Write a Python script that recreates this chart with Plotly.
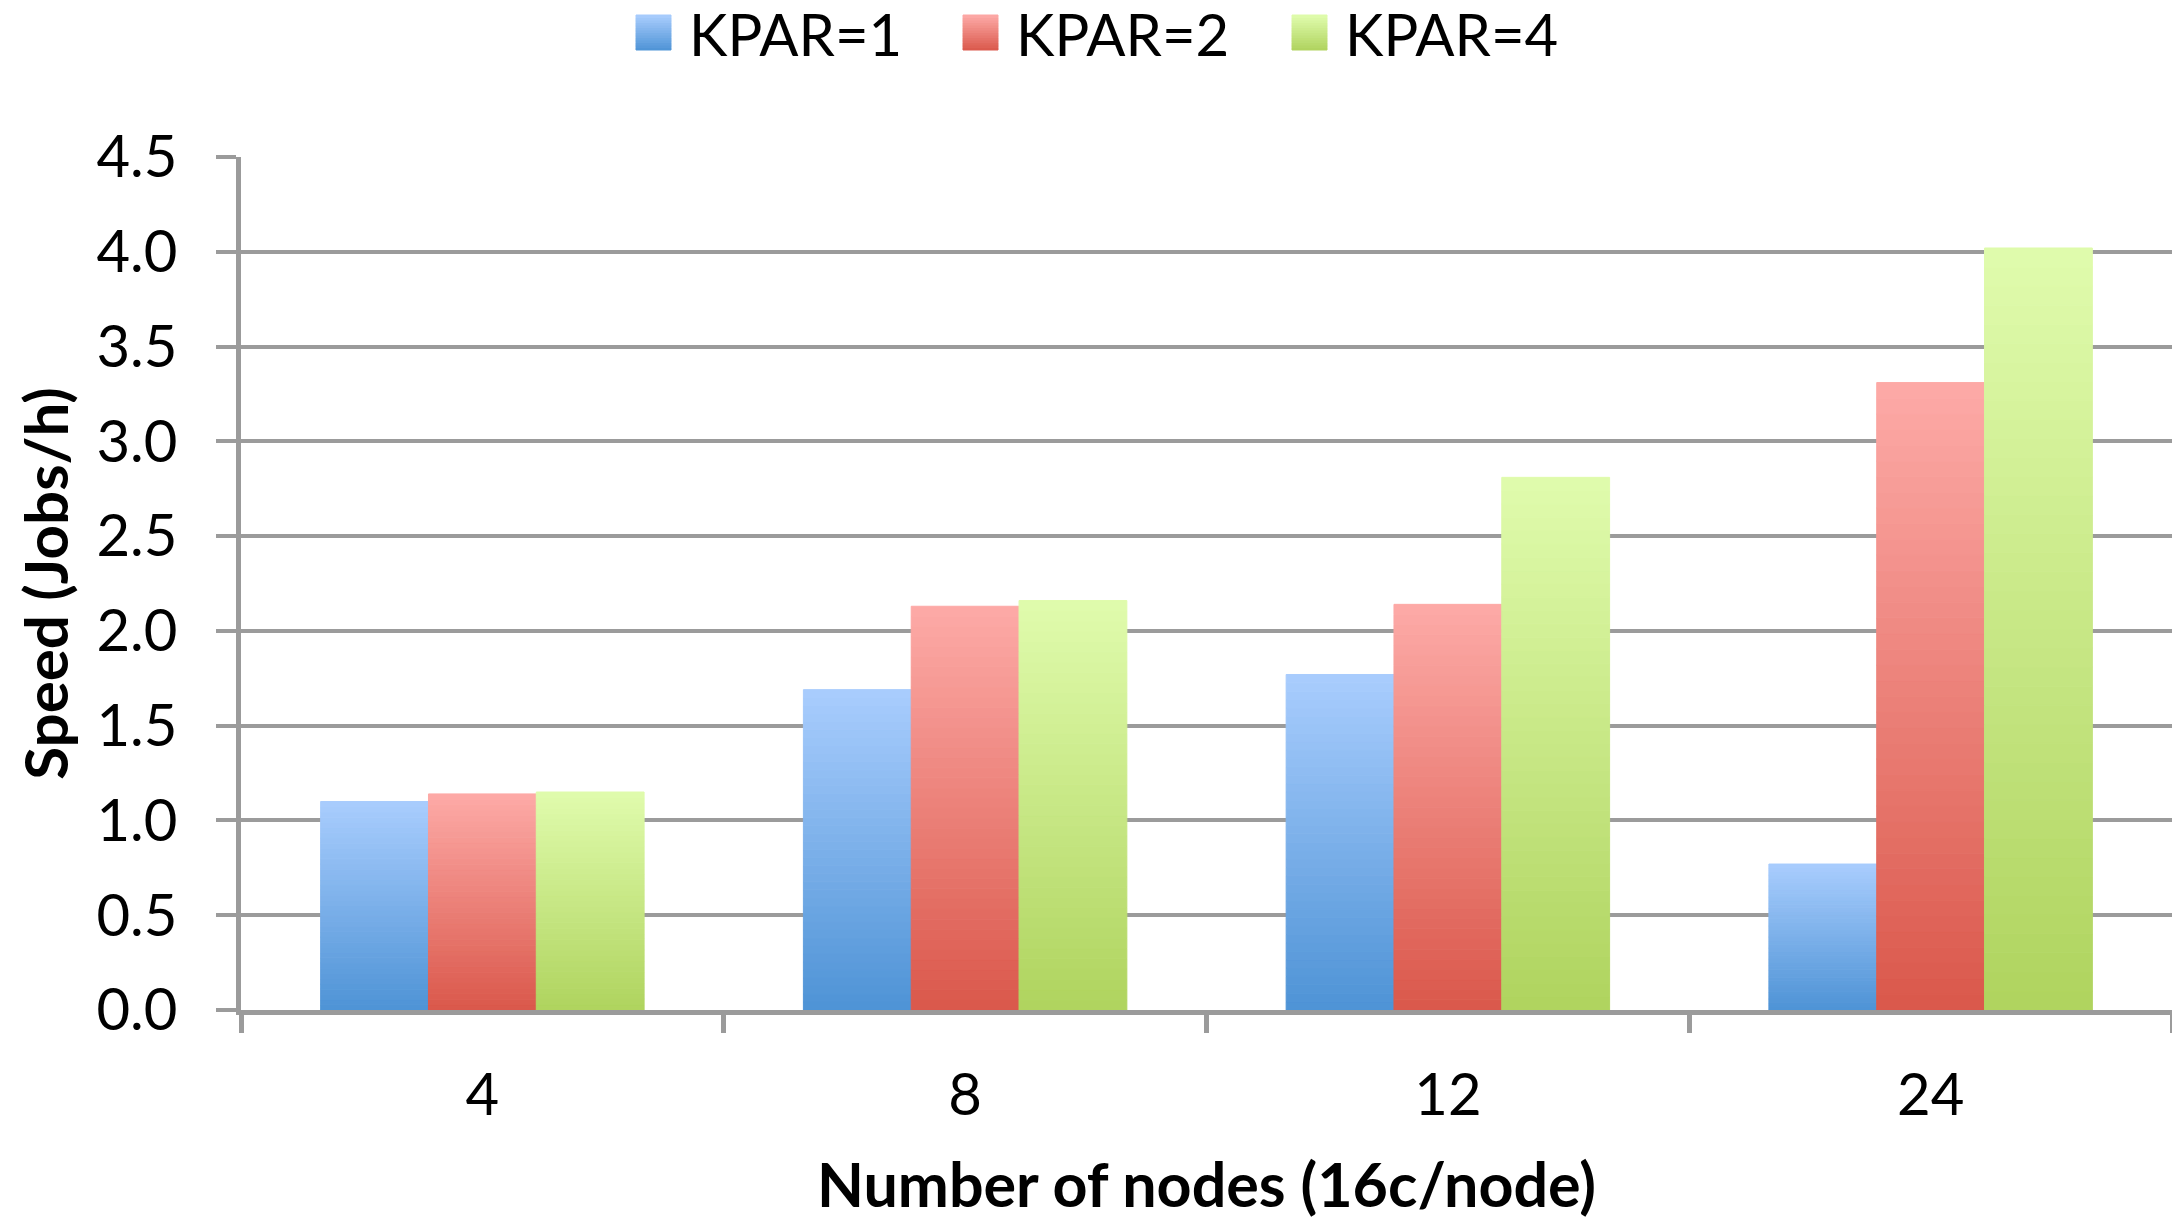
import plotly.graph_objects as go

# Data
nodes = ["4", "8", "12", "24"]
series_names = ["KPAR=1", "KPAR=2", "KPAR=4"]
kpar1 = [1.10, 1.69, 1.77, 0.77]
kpar2 = [1.14, 2.13, 2.14, 3.31]
kpar4 = [1.15, 2.16, 2.81, 4.02]
y_ticks = [0.0, 0.5, 1.0, 1.5, 2.0, 2.5, 3.0, 3.5, 4.0, 4.5]

series_values = [kpar1, kpar2, kpar4]
# (bottom colour, top colour) of each series' vertical gradient
series_colors = [
    ((0x4E, 0x93, 0xD6), (0xA9, 0xCD, 0xFD)),
    ((0xDA, 0x58, 0x4B), (0xFD, 0xAA, 0xA7)),
    ((0xAF, 0xD3, 0x5E), (0xE0, 0xFC, 0xAD)),
]

W_PX, H_PX = 2172, 1221
L, R, T, B = 241, 0, 157, 211
PLOT_W = W_PX - L - R
PLOT_H = H_PX - T - B
GRID = "#9b9b9b"
FONT = "Lato"
N_BANDS = 40


def lerp(c0, c1, t):
    return "rgb({},{},{})".format(*[round(a + (b - a) * t) for a, b in zip(c0, c1)])


fig = go.Figure()

# Each bar is painted as a stack of thin bands to give a vertical gradient
for s, (name, vals, (c_bot, c_top)) in enumerate(zip(series_names, series_values, series_colors)):
    for k in range(N_BANDS):
        col = lerp(c_bot, c_top, (k + 0.5) / N_BANDS)
        fig.add_trace(go.Bar(
            x=nodes,
            y=[v / N_BANDS for v in vals],
            base=[v * k / N_BANDS for v in vals],
            offsetgroup=str(s),
            name=name,
            legendgroup=name,
            showlegend=False,
            marker=dict(color=col, line=dict(width=1, color=col)),
            hovertext=[f"{name}: {v:.2f}" for v in vals],
            hoverinfo="text",
        ))

# Legend: gradient swatches + labels above the plot
def px_x(px):
    return (px - L) / PLOT_W


def px_y(py):
    return (H_PX - B - py) / PLOT_H


shapes = []
annotations = []
legend_x = [636, 963, 1292]
sw, sy0, sy1 = 35, 15, 50
for lx, name, (c_bot, c_top) in zip(legend_x, series_names, series_colors):
    nb = 14
    for k in range(nb):
        y0 = sy1 - (sy1 - sy0) * k / nb
        y1 = sy1 - (sy1 - sy0) * (k + 1) / nb
        col = lerp(c_bot, c_top, (k + 0.5) / nb)
        shapes.append(dict(
            type="rect", xref="paper", yref="paper",
            x0=px_x(lx), x1=px_x(lx + sw), y0=px_y(y0), y1=px_y(y1),
            fillcolor=col, line=dict(width=1, color=col), layer="above",
        ))
    annotations.append(dict(
        text=name, xref="paper", yref="paper", x=px_x(lx + sw + 16), y=px_y(33),
        xanchor="left", yanchor="middle", showarrow=False,
        font=dict(family=FONT, size=58, color="black"),
    ))

fig.update_layout(
    width=W_PX, height=H_PX,
    margin=dict(l=L, r=R, t=T, b=B, pad=0),
    paper_bgcolor="white", plot_bgcolor="white",
    barmode="group", bargap=0.33, bargroupgap=0,
    showlegend=False,
    shapes=shapes, annotations=annotations,
    font=dict(family=FONT, color="black"),
)

fig.update_xaxes(
    type="category", categoryorder="array", categoryarray=nodes,
    showgrid=False, showline=True, linecolor=GRID, linewidth=5,
    ticks="outside", tickson="boundaries", ticklen=18, tickwidth=5, tickcolor=GRID,
    tickfont=dict(family=FONT, size=58, color="black"), ticklabelstandoff=30,
    title=dict(text="<b>Number of nodes (16c/node)</b>", font=dict(family=FONT, size=61, color="black"), standoff=40),
)

fig.update_yaxes(
    range=[0, 4.5], tickvals=y_ticks, ticktext=[f"{v:.1f}" for v in y_ticks],
    showgrid=True, gridcolor=GRID, gridwidth=4, zeroline=False,
    showline=True, linecolor=GRID, linewidth=5,
    ticks="outside", ticklen=20, tickwidth=4, tickcolor=GRID,
    tickfont=dict(family=FONT, size=58, color="black"), ticklabelstandoff=27,
    title=dict(text="<b>Speed (Jobs/h)</b>", font=dict(family=FONT, size=60, color="black"), standoff=10),
)

fig.write_html("out.html")
